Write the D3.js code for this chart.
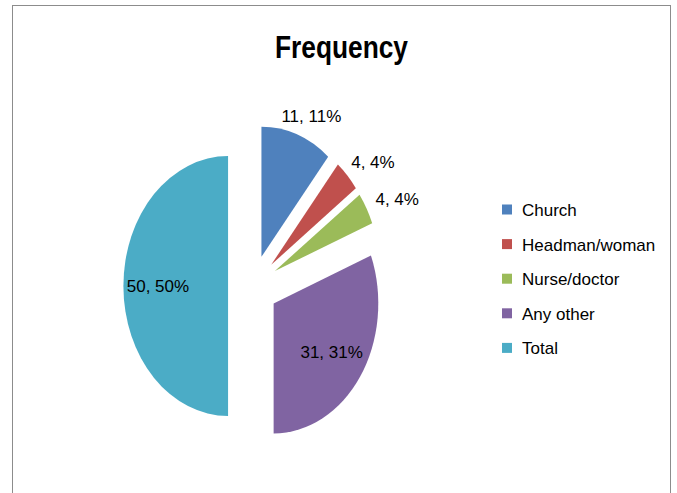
<!DOCTYPE html>
<html>
<head>
<meta charset="utf-8">
<script src="https://cdn.jsdelivr.net/npm/d3@7"></script>
<style>
  body { margin: 0; background: #fff; }
  svg text { font-family: "Liberation Sans", Arial, sans-serif; }
</style>
</head>
<body>
<div id="chart"></div>
<script>
var categories = ["Church", "Headman/woman", "Nurse/doctor", "Any other", "Total"];
var values = [11, 4, 4, 31, 50];
var colors = ["#4F81BD", "#C0504D", "#9BBB59", "#8064A2", "#4BACC6"];

var width = 677, height = 493;
var cx = 253, cy = 286, radius = 130, explode = 31;
var squeeze = 0.805; // the source picture is a bit narrower than tall

var svg = d3.select('#chart').append('svg')
  .attr('width', width)
  .attr('height', height);

// chart frame
svg.append('rect')
  .attr('x', 12.5).attr('y', 5.5)
  .attr('width', 658).attr('height', 500)
  .attr('fill', '#fff')
  .attr('stroke', '#8c8c8c')
  .attr('stroke-width', 1);

svg.append('text')
  .attr('x', 341.5).attr('y', 58)
  .attr('text-anchor', 'middle')
  .attr('textLength', 133)
  .attr('lengthAdjust', 'spacingAndGlyphs')
  .style('font-size', '32px')
  .style('font-weight', 'bold')
  .text('Frequency');

var total = d3.sum(values);
var data = categories.map(function (c, i) {
  return { name: c, value: values[i], color: colors[i] };
});

var pie = d3.pie().sort(null).value(function (d) { return d.value; });
var arc = d3.arc().innerRadius(0).outerRadius(radius);
var arcs = pie(data);

function mid(d) { return (d.startAngle + d.endAngle) / 2; }
// centre of an exploded slice, in page coordinates
function sliceX(d) { return cx + Math.sin(mid(d)) * explode * squeeze; }
function sliceY(d) { return cy - Math.cos(mid(d)) * explode; }

var pieG = svg.append('g')
  .attr('transform', 'translate(' + cx + ',' + cy + ') scale(' + squeeze + ',1)');

pieG.selectAll('path')
  .data(arcs)
  .enter().append('path')
    .attr('transform', function (d) {
      return 'translate(' + (Math.sin(mid(d)) * explode) + ',' + (-Math.cos(mid(d)) * explode) + ')';
    })
    .attr('d', arc)
    .attr('fill', function (d) { return d.data.color; });

// data labels: big slices inside, small ones outside the rim
svg.append('g').selectAll('text')
  .data(arcs)
  .enter().append('text')
    .each(function (d) {
      var a = mid(d);
      var inside = d.data.value / total > 0.2;
      var k = inside ? 0.67 : 1.1;
      var x = sliceX(d) + Math.sin(a) * radius * k * squeeze;
      var y = sliceY(d) - Math.cos(a) * radius * k;
      var label = d.data.value + ', ' + Math.round(d.data.value / total * 100) + '%';
      var el = d3.select(this).text(label);
      if (!inside) {
        var w = this.getComputedTextLength();
        x += Math.sin(a) * (w / 2 + 4);
        y -= Math.cos(a) * 7;
      }
      el.attr('x', x).attr('y', y);
    })
    .attr('dy', '0.35em')
    .attr('text-anchor', 'middle')
    .style('font-size', '17px')
    .style('fill', '#000');

// legend
var legend = svg.append('g')
  .attr('transform', 'translate(502,210)');

var row = legend.selectAll('g')
  .data(data)
  .enter().append('g')
    .attr('transform', function (d, i) { return 'translate(0,' + (i * 34.6) + ')'; });

row.append('rect')
  .attr('x', 0).attr('y', -5.5)
  .attr('width', 10).attr('height', 10)
  .attr('fill', function (d) { return d.color; });

row.append('text')
  .attr('x', 20).attr('y', 0)
  .attr('dy', '0.35em')
  .style('font-size', '17px')
  .style('fill', '#000')
  .text(function (d) { return d.name; });
</script>
</body>
</html>
